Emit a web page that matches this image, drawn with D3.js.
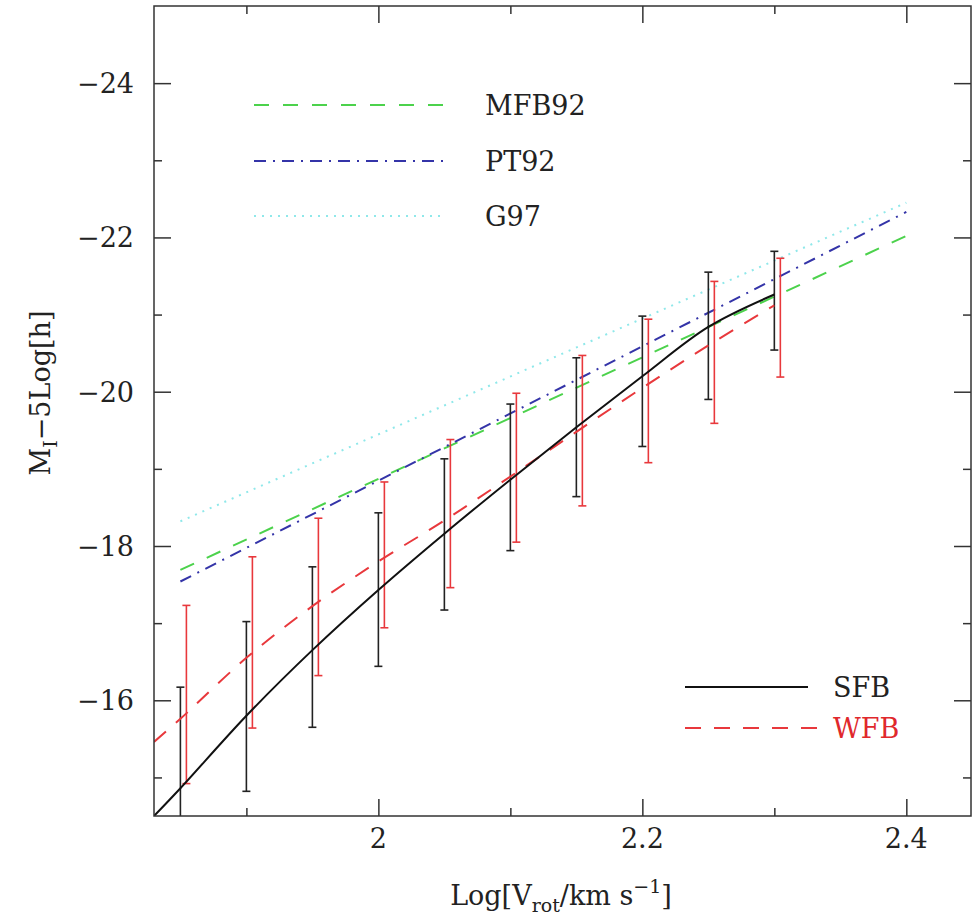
<!DOCTYPE html>
<html>
<head>
<meta charset="utf-8">
<script src="https://cdn.jsdelivr.net/npm/d3@7"></script>
<style>
  body { margin: 0; background: #fff; }
  text { font-family: "DejaVu Serif", "Liberation Serif", serif; fill: #222; }
</style>
</head>
<body>
<script>
// data
const logV = [1.85, 1.90, 1.95, 2.00, 2.05, 2.10, 2.15, 2.20, 2.25, 2.30];
const sfbTop = [-16.17, -17.02, -17.73, -18.43, -19.13, -19.84, -20.44, -20.98, -21.55, -21.82];
const sfbBot = [-14.2, -14.82, -15.65, -16.44, -17.17, -17.94, -18.64, -19.29, -19.90, -20.54];
const wfbTop = [-17.23, -17.86, -18.36, -18.83, -19.38, -19.98, -20.47, -20.94, -21.43, -21.73];
const wfbBot = [-14.92, -15.64, -16.32, -16.94, -17.46, -18.05, -18.52, -19.08, -19.59, -20.19];

const curveX = [1.83, 1.85, 1.90, 1.95, 2.00, 2.05, 2.10, 2.15, 2.20, 2.25, 2.30];
const sfbCurve = [-14.5, -14.86, -15.80, -16.65, -17.43, -18.16, -18.86, -19.54, -20.20, -20.84, -21.26];
const wfbCurve = [-15.46, -15.76, -16.55, -17.22, -17.80, -18.33, -18.90, -19.48, -20.05, -20.60, -21.12];

const modelX = [1.85, 2.40];
const mfb92 = [-17.69, -22.02];
const pt92 = [-17.54, -22.33];
const g97 = [-18.32, -22.45];

const xMajor = [2, 2.2, 2.4];
const xMinor = [1.9, 2.1, 2.3];
const yMajor = [-16, -18, -20, -22, -24];
const yMinor = [-15, -17, -19, -21, -23];

const W = 972, H = 921;
const L = 154, R = 971, T = 6, B = 816;

const x = d3.scaleLinear().domain([1.83, 2.449]).range([L, R]);
const y = d3.scaleLinear().domain([-14.5, -25]).range([B, T]);

const svg = d3.select('body').append('svg')
  .attr('width', W)
  .attr('height', H);

svg.append('defs').append('clipPath').attr('id', 'plot')
  .append('rect').attr('x', L).attr('y', T).attr('width', R - L).attr('height', B - T);

const g = svg.append('g').attr('clip-path', 'url(#plot)');

// model lines
const models = [
  { vals: mfb92, color: '#4cd24c', dash: '15,14' },
  { vals: pt92, color: '#3434a8', dash: '12,7,2,7' },
  { vals: g97, color: '#8fe8ea', dash: '2,6' }
];
const line = d3.line().x(d => x(d[0])).y(d => y(d[1]));

models.forEach(m => {
  g.append('path')
    .datum(modelX.map((v, i) => [v, m.vals[i]]))
    .attr('d', line)
    .attr('fill', 'none')
    .attr('stroke', m.color)
    .attr('stroke-width', 2)
    .attr('stroke-dasharray', m.dash);
});

// error bars
function bars(top, bot, color, dx) {
  const eb = g.append('g').attr('stroke', color).attr('stroke-width', 1.6);
  logV.forEach((v, i) => {
    const cx = x(v) + dx;
    eb.append('line').attr('x1', cx).attr('x2', cx).attr('y1', y(top[i])).attr('y2', y(bot[i]));
    [top[i], bot[i]].forEach(e => {
      eb.append('line').attr('x1', cx - 4).attr('x2', cx + 4).attr('y1', y(e)).attr('y2', y(e));
    });
  });
}
bars(sfbTop, sfbBot, '#222', 0);
bars(wfbTop, wfbBot, '#e8383c', 6);

// SFB and WFB curves
const smooth = d3.line().x(d => x(d[0])).y(d => y(d[1])).curve(d3.curveCatmullRom.alpha(0.5));
g.append('path')
  .datum(curveX.map((v, i) => [v, wfbCurve[i]]))
  .attr('d', smooth)
  .attr('fill', 'none')
  .attr('stroke', '#e8383c')
  .attr('stroke-width', 2)
  .attr('stroke-dasharray', '16,13');
g.append('path')
  .datum(curveX.map((v, i) => [v, sfbCurve[i]]))
  .attr('d', smooth)
  .attr('fill', 'none')
  .attr('stroke', '#111')
  .attr('stroke-width', 2);

// frame + ticks on all four sides, pointing in
const fmtX = d3.format('.2~f');
const fmtY = d3.format('d');

function side(axisFn, scale, major, minor, transform) {
  svg.append('g').attr('transform', transform)
    .call(axisFn(scale).tickValues(major).tickSize(-17).tickFormat('').tickSizeOuter(0));
  svg.append('g').attr('transform', transform)
    .call(axisFn(scale).tickValues(minor).tickSize(-8).tickFormat('').tickSizeOuter(0));
}
side(d3.axisBottom, x, xMajor, xMinor, `translate(0,${B})`);
side(d3.axisTop, x, xMajor, xMinor, `translate(0,${T})`);
side(d3.axisLeft, y, yMajor, yMinor, `translate(${L},0)`);
side(d3.axisRight, y, yMajor, yMinor, `translate(${R},0)`);
svg.selectAll('.domain').remove();
svg.selectAll('.tick line').attr('stroke', '#333').attr('stroke-width', 1.5);

svg.append('rect')
  .attr('x', L).attr('y', T).attr('width', R - L).attr('height', B - T)
  .attr('fill', 'none').attr('stroke', '#333').attr('stroke-width', 1.5);

// tick labels
svg.selectAll('.xlab').data(xMajor).enter()
  .append('text')
  .attr('x', d => x(d))
  .attr('y', 848)
  .attr('text-anchor', 'middle')
  .attr('font-size', 27)
  .text(d => fmtX(d));

svg.selectAll('.ylab').data(yMajor).enter()
  .append('text')
  .attr('x', 134)
  .attr('y', d => y(d) + 10)
  .attr('text-anchor', 'end')
  .attr('font-size', 27)
  .text(d => fmtY(d));

// axis titles
const xt = svg.append('text')
  .attr('x', 561).attr('y', 905)
  .attr('text-anchor', 'middle')
  .attr('font-size', 27);
xt.append('tspan').text('Log[V');
xt.append('tspan').attr('font-size', 19).attr('dy', 7).text('rot');
xt.append('tspan').attr('dy', -7).text('/km  s');
xt.append('tspan').attr('font-size', 19).attr('dy', -12).text('−1');
xt.append('tspan').attr('dy', 12).text(']');

const yt = svg.append('text')
  .attr('transform', 'translate(50,393) rotate(-90)')
  .attr('text-anchor', 'middle')
  .attr('font-size', 27);
yt.append('tspan').text('M');
yt.append('tspan').attr('font-size', 19).attr('dy', 7).text('I');
yt.append('tspan').attr('dy', -7).text('−5Log[h]');

// legends
const legTop = [
  { name: 'MFB92', m: models[0], ly: 105 },
  { name: 'PT92', m: models[1], ly: 161 },
  { name: 'G97', m: models[2], ly: 216 }
];
legTop.forEach(l => {
  svg.append('line')
    .attr('x1', 254).attr('x2', 444).attr('y1', l.ly).attr('y2', l.ly)
    .attr('stroke', l.m.color).attr('stroke-width', 2)
    .attr('stroke-dasharray', l.m.dash);
  svg.append('text')
    .attr('x', 485).attr('y', l.ly + 10)
    .attr('font-size', 27)
    .text(l.name);
});

svg.append('line')
  .attr('x1', 685).attr('x2', 808).attr('y1', 687).attr('y2', 687)
  .attr('stroke', '#111').attr('stroke-width', 2);
svg.append('text').attr('x', 833).attr('y', 697).attr('font-size', 27).text('SFB');
svg.append('line')
  .attr('x1', 685).attr('x2', 820).attr('y1', 728).attr('y2', 728)
  .attr('stroke', '#e8383c').attr('stroke-width', 2)
  .attr('stroke-dasharray', '16,13');
svg.append('text').attr('x', 833).attr('y', 738).attr('font-size', 27)
  .style('fill', '#e0282c').text('WFB');
</script>
</body>
</html>
